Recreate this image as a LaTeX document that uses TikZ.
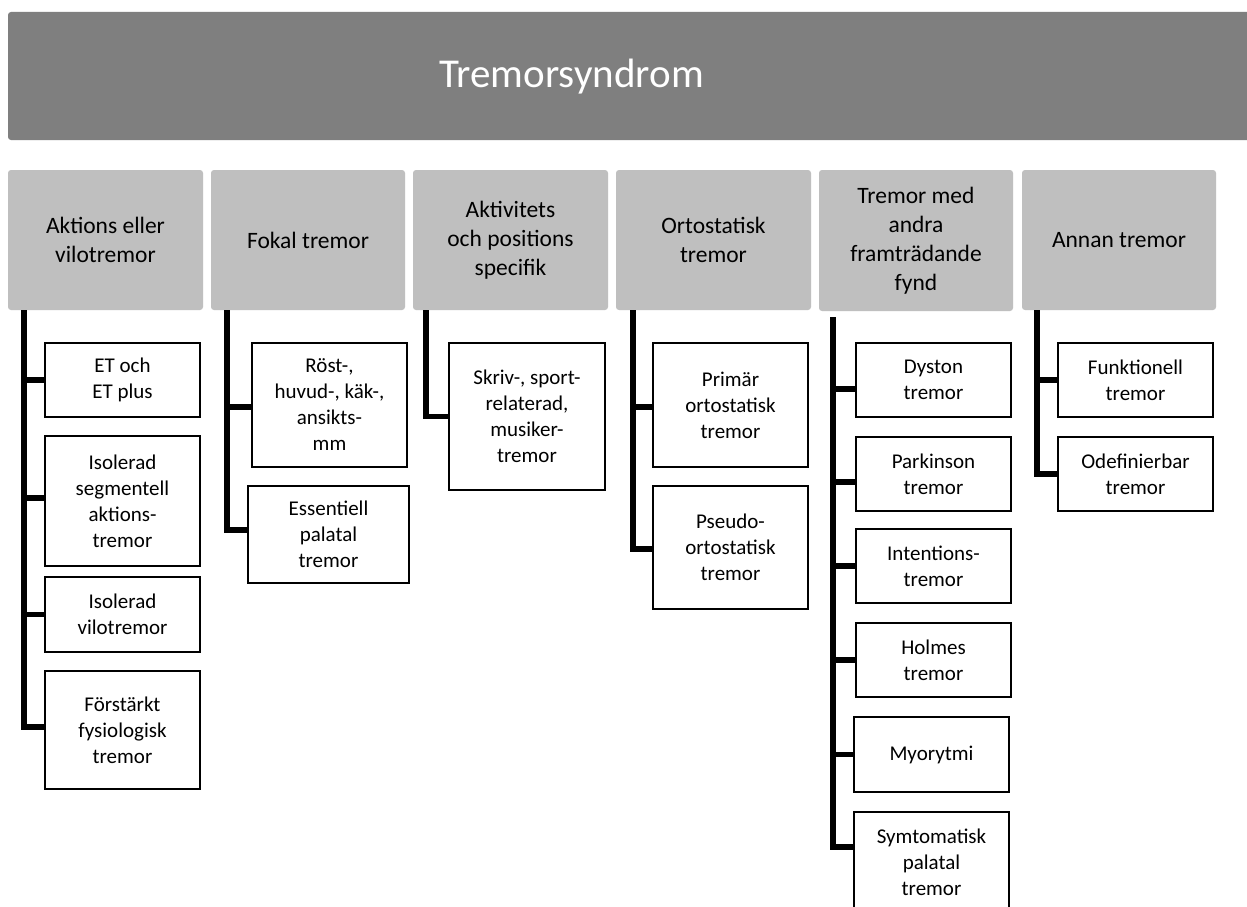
\documentclass[tikz,border=0pt]{standalone}
\usepackage{fontspec}
\setmainfont{Carlito}
\definecolor{titlegray}{HTML}{7F7F7F}
\definecolor{lonegray}{HTML}{BFBFBF}
\tikzset{
  titlebox/.style={fill=titlegray, rounded corners=3pt, draw=none, inner sep=0pt},
  lone/.style={fill=lonegray, rounded corners=3pt, draw=none, inner sep=0pt, align=center,
    font=\fontsize{23.5}{29}\selectfont},
  child/.style={fill=white, draw=black, line width=1.8pt, inner sep=0pt, align=center,
    font=\fontsize{21}{26}\selectfont},
  conn/.style={draw=black, line width=5.5pt, line cap=butt, line join=miter}
}
% #1 style, #2 name, #3 x1, #4 x2, #5 y1, #6 y2, #7 text
\newcommand{\mybox}[7]{\node[#1, minimum width={#4-#3}, minimum height={#6-#5}] (#2) at ({(#3+#4)/2},{(#5+#6)/2}) {#7};}
\begin{document}
\begin{tikzpicture}[x=1pt,y=-1pt]
\clip (0,0) rectangle (1247,907);
\fill[white] (0,0) rectangle (1247,907);
% title
\mybox{titlebox}{t}{8}{1256}{12}{140}{}
\node[text=white, font=\fontsize{41}{49}\selectfont, inner sep=0pt] (tt) at (571.5,77) {Tremorsyndrom};
% level one
\mybox{lone}{a1}{8}{203}{170}{310}{Aktions eller\\vilotremor}
\mybox{lone}{a2}{211}{405}{170}{310}{Fokal tremor}
\mybox{lone}{a3}{413}{608}{170}{310}{Aktivitets\\och positions\\specifik}
\mybox{lone}{a4}{616}{811}{170}{310}{Ortostatisk\\tremor}
\mybox{lone}{a5}{819}{1013}{170}{311}{Tremor med\\andra\\framträdande\\fynd}
\mybox{lone}{a6}{1022}{1216}{170}{310}{Annan tremor}
% children
\mybox{child}{c11}{45}{200}{343}{417}{ET och\\ET plus}
\mybox{child}{c12}{45}{200}{436}{566}{Isolerad\\segmentell\\aktions-\\tremor}
\mybox{child}{c13}{45}{200}{577}{652}{Isolerad\\vilotremor}
\mybox{child}{c14}{45}{200}{671}{789}{Förstärkt\\fysiologisk\\tremor}
\mybox{child}{c21}{252}{407}{343}{467}{Röst-,\\huvud-, käk-,\\ansikts-\\mm}
\mybox{child}{c22}{248}{409}{486}{583}{Essentiell\\palatal\\tremor}
\mybox{child}{c31}{449}{605}{343}{490}{Skriv-, sport-\\relaterad,\\musiker-\\tremor}
\mybox{child}{c41}{653}{808}{343}{467}{Primär\\ortostatisk\\tremor}
\mybox{child}{c42}{653}{808}{486}{609}{Pseudo-\\ortostatisk\\tremor}
\mybox{child}{c51}{856}{1011}{343}{417}{Dyston\\tremor}
\mybox{child}{c52}{856}{1011}{437}{511}{Parkinson\\tremor}
\mybox{child}{c53}{856}{1011}{529}{603}{Intentions-\\tremor}
\mybox{child}{c54}{856}{1011}{623}{697}{Holmes\\tremor}
\mybox{child}{c55}{854}{1009}{717}{792}{Myorytmi}
\mybox{child}{c56}{854}{1009}{812}{912}{Symtomatisk\\palatal\\tremor}
\mybox{child}{c61}{1058}{1213}{343}{417}{Funktionell\\tremor}
\mybox{child}{c62}{1058}{1213}{437}{511}{Odefinierbar\\tremor}
% connectors
\draw[conn] ([xshift=16pt]a1.south west) |- (c11.west);
\draw[conn] ([xshift=16pt]a1.south west) |- ([yshift=3pt]c12.west);
\draw[conn] ([xshift=16pt]a1.south west) |- (c13.west);
\draw[conn] ([xshift=16pt]a1.south west) |- ([yshift=3pt]c14.west);
\draw[conn] ([xshift=16pt]a2.south west) |- ([yshift=-2pt]c21.west);
\draw[conn] ([xshift=16pt]a2.south west) |- ([yshift=4.5pt]c22.west);
\draw[conn] ([xshift=13pt]a3.south west) |- (c31.west);
\draw[conn] ([xshift=17pt]a4.south west) |- ([yshift=-2pt]c41.west);
\draw[conn] ([xshift=17pt]a4.south west) |- ([yshift=-1.5pt]c42.west);
\draw[conn] ([xshift=14pt,yshift=-6pt]a5.south west) |- ([yshift=-9pt]c51.west);
\draw[conn] ([xshift=14pt,yshift=-6pt]a5.south west) |- ([yshift=-8pt]c52.west);
\draw[conn] ([xshift=14pt,yshift=-6pt]a5.south west) |- (c53.west);
\draw[conn] ([xshift=14pt,yshift=-6pt]a5.south west) |- (c54.west);
\draw[conn] ([xshift=14pt,yshift=-6pt]a5.south west) |- (c55.west);
\draw[conn] ([xshift=14pt,yshift=-6pt]a5.south west) |- ([yshift=15pt]c56.west);
\draw[conn] ([xshift=15pt]a6.south west) |- (c61.west);
\draw[conn] ([xshift=15pt]a6.south west) |- (c62.west);
\end{tikzpicture}
\end{document}
